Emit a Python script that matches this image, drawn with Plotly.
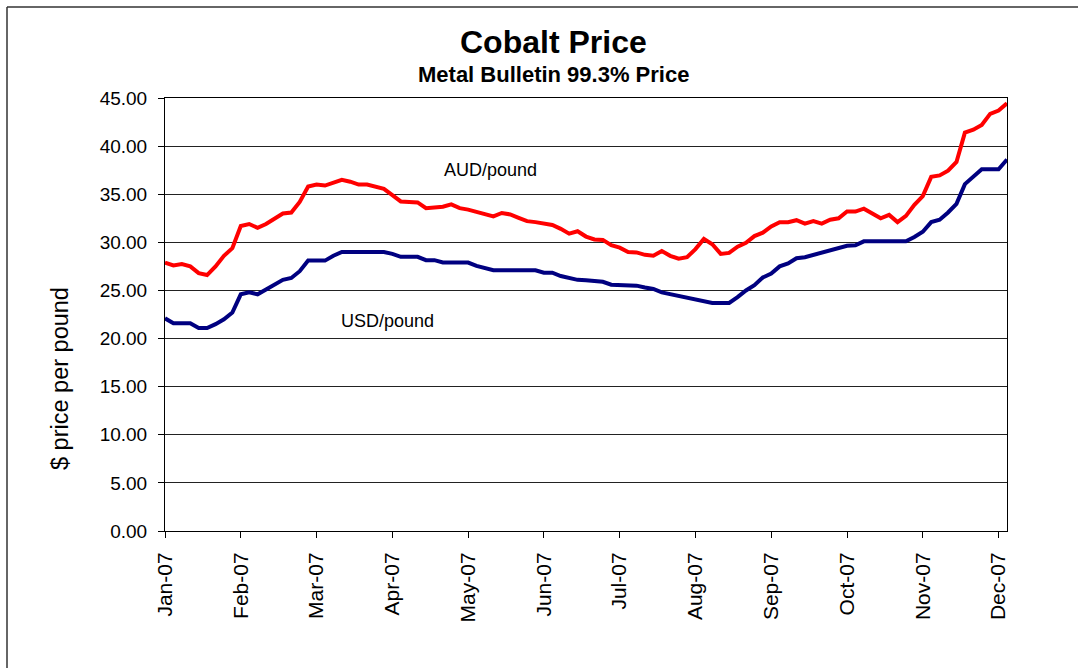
import plotly.graph_objects as go

# Twice-weekly Metal Bulletin cobalt prices, Jan-07 .. early Dec-07
aud_pound = [
    27.9, 27.6, 27.75, 27.5, 26.8, 26.6, 27.5, 28.6, 29.4, 31.7,
    31.9, 31.5, 31.9, 32.5, 33.0, 33.1, 34.2, 35.8, 36.0, 35.9,
    36.2, 36.5, 36.3, 36.0, 36.0, 35.8, 35.55, 34.9, 34.25, 34.2,
    34.15, 33.55, 33.6, 33.7, 33.95, 33.55, 33.4, 33.15, 32.95, 32.7,
    33.05, 32.9, 32.55, 32.2, 32.1, 31.9, 31.8, 31.4, 30.9, 31.15,
    30.6, 30.3, 30.25, 29.7, 29.45, 29.0, 28.95, 28.7, 28.6, 29.1,
    28.6, 28.3, 28.45, 29.3, 30.35, 29.8, 28.8, 28.9, 29.55, 29.95,
    30.65, 31.0, 31.65, 32.1, 32.1, 32.3, 31.95, 32.2, 31.95, 32.35,
    32.5, 33.2, 33.2, 33.5, 32.95, 32.5, 32.85, 32.1, 32.75, 33.9,
    34.8, 36.8, 36.95, 37.45, 38.35, 41.4, 41.7, 42.2, 43.35, 43.7,
    44.45,
]
usd_pound = [
    22.1, 21.6, 21.6, 21.6, 21.1, 21.1, 21.5, 22.0, 22.7, 24.6,
    24.8, 24.6, 25.1, 25.55, 26.1, 26.3, 27.0, 28.1, 28.1, 28.1,
    28.6, 29.0, 29.0, 29.0, 29.0, 29.0, 29.0, 28.8, 28.5, 28.5,
    28.5, 28.15, 28.15, 27.9, 27.9, 27.9, 27.9, 27.55, 27.3, 27.1,
    27.1, 27.1, 27.1, 27.1, 27.1, 26.85, 26.85, 26.5, 26.3, 26.1,
    26.05, 25.95, 25.9, 25.6, 25.6, 25.5, 25.5, 25.3, 25.15, 24.8,
    24.6, 24.5, 24.2, 24.1, 23.85, 23.7, 23.7, 23.7, 24.3, 25.0,
    25.55, 26.35, 26.75, 27.5, 27.8, 28.35, 28.45, 28.7, 28.9, 29.1,
    29.35, 29.65, 29.7, 30.1, 30.1, 30.1, 30.1, 30.1, 30.1, 30.55,
    31.1, 32.1, 32.35, 33.1, 34.0, 36.05, 36.85, 37.6, 37.6, 37.6,
    38.6,
]
month_labels = ["Jan-07", "Feb-07", "Mar-07", "Apr-07", "May-07", "Jun-07",
                "Jul-07", "Aug-07", "Sep-07", "Oct-07", "Nov-07", "Dec-07"]
y_ticks = [0, 5, 10, 15, 20, 25, 30, 35, 40, 45]

FONT = "Liberation Sans, Arial, sans-serif"
n = len(aud_pound)
x_idx = list(range(n))
label_step = 9
tick_pos = [i * label_step for i in range(len(month_labels))]

fig = go.Figure()
fig.add_trace(go.Scatter(x=x_idx, y=aud_pound, mode="lines", name="AUD/pound",
                         line=dict(color="#FF0000", width=4), hoverinfo="y"))
fig.add_trace(go.Scatter(x=x_idx, y=usd_pound, mode="lines", name="USD/pound",
                         line=dict(color="#000080", width=4), hoverinfo="y"))

W, H = 1078, 668
ML, MR, MT, MB = 165, 71, 98, 137
PW = W - ML - MR
PH = H - MT - MB

def px_x(px):
    return (px - ML) / PW

def px_y(py):
    return (H - MB - py) / PH

fig.update_layout(
    width=W, height=H,
    margin=dict(l=ML, r=MR, t=MT, b=MB, pad=0),
    paper_bgcolor="white", plot_bgcolor="white",
    showlegend=False,
    font=dict(family=FONT, color="black"),
    xaxis=dict(
        range=[0, n - 1],
        tickmode="array", tickvals=tick_pos, ticktext=month_labels,
        tickangle=-90, tickfont=dict(size=21, family=FONT),
        ticks="outside", ticklen=6, tickcolor="black", tickwidth=1,
        ticklabelstandoff=6,
        showline=True, linecolor="black", linewidth=1, mirror=True,
        showgrid=False, zeroline=False,
    ),
    yaxis=dict(
        range=[0, 45],
        tickmode="array", tickvals=y_ticks, tickformat=".2f",
        tickfont=dict(size=19, family=FONT),
        ticks="outside", ticklen=6, tickcolor="black", tickwidth=1,
        ticklabelstandoff=7,
        showline=True, linecolor="black", linewidth=1, mirror=True,
        showgrid=True, gridcolor="#222222", gridwidth=1,
        zeroline=False,
    ),
    annotations=[
        dict(text="<b>Cobalt Price</b>", x=px_x(553), y=px_y(42), xref="paper", yref="paper",
             showarrow=False, font=dict(size=32, family=FONT), xanchor="center", yanchor="middle"),
        dict(text="<b>Metal Bulletin 99.3% Price</b>", x=px_x(553), y=px_y(75), xref="paper", yref="paper",
             showarrow=False, font=dict(size=22, family=FONT), xanchor="center", yanchor="middle"),
        dict(text="$ price per pound", x=px_x(60), y=px_y(379), xref="paper", yref="paper",
             showarrow=False, textangle=-90, font=dict(size=23.5, family=FONT),
             xanchor="center", yanchor="middle"),
        dict(text="AUD/pound", x=px_x(490), y=px_y(170), xref="paper", yref="paper",
             showarrow=False, font=dict(size=18, family=FONT), xanchor="center", yanchor="middle"),
        dict(text="USD/pound", x=px_x(387), y=px_y(321), xref="paper", yref="paper",
             showarrow=False, font=dict(size=18, family=FONT), xanchor="center", yanchor="middle"),
    ],
    shapes=[
        dict(type="line", xref="paper", yref="paper", x0=px_x(7), x1=px_x(1090),
             y0=px_y(7), y1=px_y(7), line=dict(color="#333333", width=1.5)),
        dict(type="line", xref="paper", yref="paper", x0=px_x(7), x1=px_x(7),
             y0=px_y(7), y1=px_y(680), line=dict(color="#333333", width=1.5)),
    ],
)

fig.write_html(
    "out.html",
    config={"displayModeBar": False},
    post_script="document.body.style.margin='0';document.body.style.overflow='hidden';",
)
